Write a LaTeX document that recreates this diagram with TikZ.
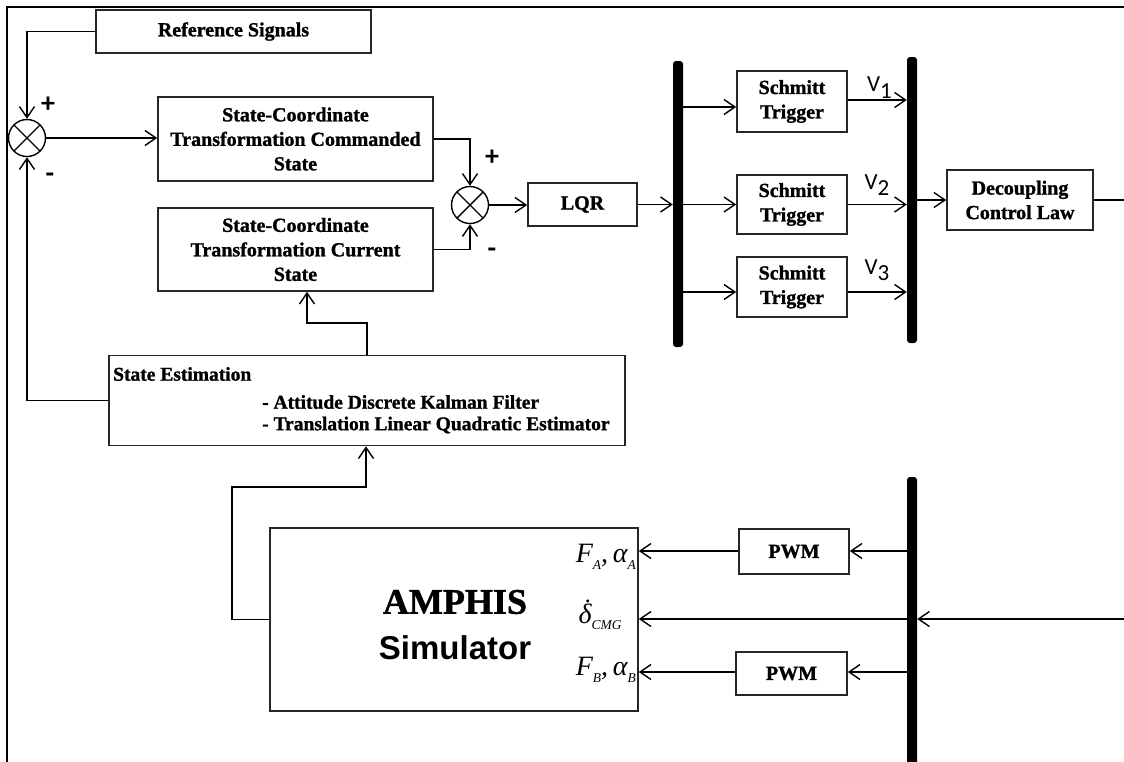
\documentclass[tikz,border=0pt]{standalone}
\usepackage{fontspec}
\setmainfont{Liberation Serif}[BoldFeatures={FakeBold=1.2}]
\newfontfamily\sansA{Liberation Sans}
\newfontfamily\calib{Carlito}
\usetikzlibrary{arrows.meta}
\newcommand\lsub[1]{\raisebox{-6.5pt}{\fontsize{13.5}{13.5}\selectfont\itshape #1}}
\tikzset{
  frameln/.style={line width=2pt, line cap=rect},
  blk/.style={draw=black!85, line width=1.6pt, align=center, inner sep=0pt,
    font=\fontsize{20}{24.5}\selectfont\bfseries},
  conn/.style={line width=1.4pt},
  arr/.style={conn, -{Straight Barb[length=11pt,width=15pt,line width=1.4pt]}},
  bus/.style={fill=black, rounded corners=3pt, minimum width=10pt, inner sep=0pt},
  sumj/.style={circle, draw, line width=1.4pt, minimum size=37pt, inner sep=0pt,
    path picture={\draw[line width=1.4pt] (path picture bounding box.north west) -- (path picture bounding box.south east)
      (path picture bounding box.north east) -- (path picture bounding box.south west);}},
  sgn/.style={font=\calib\bfseries\fontsize{28}{28}\selectfont, inner sep=0pt},
  vlab/.style={font=\calib\fontsize{23}{23}\selectfont, inner sep=0pt},
  setxt/.style={anchor=west, inner sep=0pt, font=\fontsize{19.5}{19.5}\selectfont\bfseries},
  mlab/.style={inner sep=0pt, font=\fontsize{28}{28}\selectfont\itshape},
}
\begin{document}
\begin{tikzpicture}[x=1pt,y=-1pt]
\useasboundingbox (0,0) rectangle (1124,761);
\fill[white] (0,0) rectangle (1124,761);
\draw[frameln] (7,770) -- (7,7) -- (1130,7);

% top part
\node[blk, minimum width=275pt, minimum height=43pt] (rs) at (233.5,31.5) {Reference Signals};
\node[sumj] (s1) at (27,138) {};
\node[sgn] (p1) at (48,105) {+};
\node[sgn] (m1) at (50,178) {-};
\node[blk, minimum width=275pt, minimum height=84pt] (cmd) at (295.5,139) {State-Coordinate\\Transformation Commanded\\State};
\node[blk, minimum width=275pt, minimum height=83pt] (cur) at (295.5,249.5) {State-Coordinate\\Transformation Current\\State};
\node[sumj] (s2) at (470,205) {};
\node[sgn] (p2) at (492,158) {+};
\node[sgn] (m2) at (492,253) {-};
\node[blk, minimum width=109pt, minimum height=43pt] (lqr) at (582.5,204.5) {LQR};
\node[bus, minimum height=286pt] (b1) at (678,204) {};
\node[blk, minimum width=110pt, minimum height=61pt] (st1) at (792,101.5) {Schmitt\\Trigger};
\node[blk, minimum width=110pt, minimum height=59pt] (st2) at (792,204.5) {Schmitt\\Trigger};
\node[blk, minimum width=110pt, minimum height=60pt] (st3) at (792,287) {Schmitt\\Trigger};
\node[bus, minimum height=286pt] (b2) at (912,200) {};
\node[vlab] (v1) at (879.5,87.5) {V\raisebox{-6.5pt}{1}};
\node[vlab] (v2) at (877,185) {V\raisebox{-6.5pt}{2}};
\node[vlab] (v3) at (877,270) {V\raisebox{-6.5pt}{3}};
\node[blk, minimum width=146pt, minimum height=60pt] (dcl) at (1020,200) {Decoupling\\Control Law};
\coordinate (outR) at (1124,200);

% state estimation
\node[blk, minimum width=516pt, minimum height=90pt] (se) at (367,400.5) {};
\node[setxt] (se1) at (113,374) {State Estimation};
\node[setxt] (se2) at (262,402) {- Attitude Discrete Kalman Filter};
\node[setxt] (se3) at (262,425) {- Translation Linear Quadratic Estimator};

% bottom part
\node[blk, minimum width=368pt, minimum height=183pt] (amp) at (454,619.5) {};
\node[inner sep=0pt, font=\fontsize{36}{36}\selectfont\bfseries] (ampa) at (455,602) {AMPHIS};
\node[inner sep=0pt, font=\sansA\bfseries\fontsize{33}{33}\selectfont] (ampb) at (455,648) {Simulator};
\node[mlab, anchor=east] (fa) at (636,557) {F\lsub{A},\,α\lsub{A}};
\node[mlab] (dcmg) at (600,617) {\ooalign{δ\cr\hidewidth\raisebox{5pt}{\hspace{2pt}˙}\hidewidth\cr}\lsub{CMG}};
\node[mlab, anchor=east] (fb) at (636,670) {F\lsub{B},\,α\lsub{B}};
\node[bus, minimum height=300pt] (b3) at (912,627) {};
\node[blk, minimum width=110pt, minimum height=45pt] (pwm1) at (794,551.5) {PWM};
\node[blk, minimum width=111pt, minimum height=43pt] (pwm2) at (791.5,673.5) {PWM};
\coordinate (inR) at (1124,619);

% connectors
\draw[arr] (rs.west) -| (s1.north);
\draw[arr] (se.west) -| (s1.south);
\draw[arr] (s1.east) -- (cmd.west |- s1.east);
\draw[arr] (cmd.east) -| (s2.north);
\draw[arr] (cur.east) -| (s2.south);
\draw[arr] (s2.east) -- (lqr.west |- s2.east);
\draw[arr] (lqr.east) -- (b1.west |- lqr.east);
\draw[arr] (b1.east |- 0,107) -- (st1.west |- 0,107);
\draw[arr] (b1.east |- st2.west) -- (st2.west);
\draw[arr] (b1.east |- 0,292) -- (st3.west |- 0,292);
\draw[arr] (st1.east |- 0,100) -- (b2.west |- 0,100);
\draw[arr] (st2.east) -- (b2.west |- st2.east);
\draw[arr] (st3.east |- 0,292) -- (b2.west |- 0,292);
\draw[arr] (b2.east |- dcl.west) -- (dcl.west);
\draw[conn] (dcl.east) -- (outR);
\draw[arr] (se.north -| 367,0) -- (367,323) -| (cur.south -| 307,0);
\draw[arr] (amp.west) -- (232,619.5) |- (366,487) -- (se.south -| 366,0);
\draw[arr] (inR) -- (b3.east |- inR);
\draw[arr] (b3.west |- inR) -- (amp.east |- inR);
\draw[arr] (b3.west |- 0,551) -- (pwm1.east |- 0,551);
\draw[arr] (pwm1.west |- 0,551) -- (amp.east |- 0,551);
\draw[arr] (b3.west |- 0,672) -- (pwm2.east |- 0,672);
\draw[arr] (pwm2.west |- 0,672) -- (amp.east |- 0,672);
\end{tikzpicture}
\end{document}
